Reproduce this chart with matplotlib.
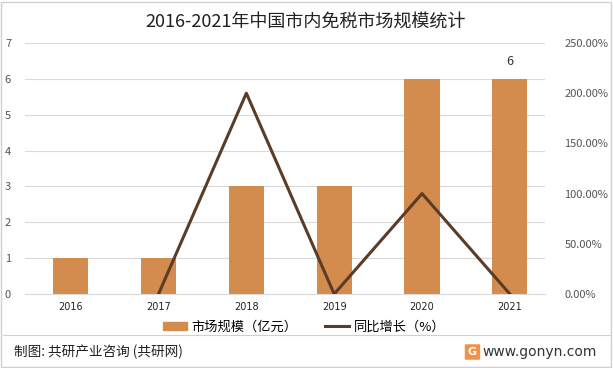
import matplotlib
matplotlib.use("Agg")
import matplotlib.pyplot as plt
from matplotlib.patches import Rectangle, FancyBboxPatch
from matplotlib.lines import Line2D

plt.rcParams['font.family'] = ['Noto Sans CJK SC', 'DejaVu Sans']

years = ['2016', '2017', '2018', '2019', '2020', '2021']
market_size = [1, 1, 3, 3, 6, 6]
growth_years = ['2017', '2018', '2019', '2020', '2021']
growth_rate = [0, 200, 0, 100, 0]
left_ticks = [0, 1, 2, 3, 4, 5, 6, 7]
right_ticks = [0, 50, 100, 150, 200, 250]

bar_color = '#D48C4E'
line_color = '#5B3C26'

W, H = 613, 368
fig = plt.figure(figsize=(W / 100, H / 100), dpi=100)
fig.patch.set_facecolor('white')

ax = fig.add_axes([25 / W, 1 - 294 / H, 520 / W, 251 / H])
ax2 = ax.twinx()

x = list(range(len(years)))
ax.bar(x, market_size, width=0.4, color=bar_color, zorder=2)
ax.set_ylim(0, 7)
ax.set_yticks(left_ticks)
ax.set_xlim(-0.52, 5.4)
ax.set_xticks(x)
ax.set_xticklabels(years, fontsize=7, color='#222222', fontfamily='DejaVu Sans')
ax.grid(axis='y', color='#D9D9D9', linewidth=0.8, zorder=0)
ax.set_axisbelow(True)
ax.tick_params(axis='both', length=0, pad=6)
ax.tick_params(axis='y', labelsize=8, labelcolor='#555555', pad=10)
for s in ax.spines.values():
    s.set_visible(False)
ax.spines['bottom'].set_visible(True)
ax.spines['bottom'].set_color('#D9D9D9')

# data label on last bar
ax.annotate(str(market_size[-1]), (x[-1], market_size[-1]), xytext=(0, 8),
            textcoords='offset points', ha='center', va='bottom',
            fontsize=9, color='#333333')

gx = [years.index(y) for y in growth_years]
ax2.plot(gx, growth_rate, color=line_color, linewidth=2.2, zorder=3)
ax2.set_ylim(0, 250)
ax2.set_yticks(right_ticks)
ax2.set_yticklabels([f'{v:.2f}%' for v in right_ticks], fontsize=8, color='#555555')
ax2.tick_params(axis='y', length=0, pad=14)
for s in ax2.spines.values():
    s.set_visible(False)

fig.text(306 / W, 1 - 22 / H, '2016-2021年中国市内免税市场规模统计', ha='center', va='center',
         fontsize=13, color='#222222')

# legend
handles = [Rectangle((0, 0), 1, 1, color=bar_color),
           Line2D([0], [0], color=line_color, linewidth=2.2)]
fig.legend(handles, ['市场规模（亿元）', '同比增长（%）'], loc='center',
           bbox_to_anchor=(304 / W, 1 - 327 / H), ncol=2, frameon=False,
           fontsize=9.5, handlelength=1.85, handleheight=0.55, columnspacing=2.1,
           handletextpad=0.3)

# footer
fig.add_artist(Line2D([3 / W, 610 / W], [1 - 335 / H, 1 - 335 / H], color='#D0D0D0', linewidth=0.8))
fig.text(14 / W, 1 - 352 / H, '制图: 共研产业咨询 (共研网)', ha='left', va='center',
         fontsize=9.8, color='#222222', fontweight='medium')
fig.text(597 / W, 1 - 352 / H, 'www.gonyn.com', ha='right', va='center',
         fontsize=10, color='#333333', fontfamily='DejaVu Sans')
fig.add_artist(FancyBboxPatch((466 / W, 1 - 359 / H), 13 / W, 14 / H,
                              boxstyle='round,pad=0.002', facecolor='#F2914A',
                              edgecolor='none', transform=fig.transFigure))
fig.text(472.5 / W, 1 - 352 / H, 'G', ha='center', va='center', fontsize=8,
         color='white', fontweight='bold', fontfamily='DejaVu Sans')

# outer border
fig.add_artist(Rectangle((1 / W, 1 / H), (W - 3) / W, (H - 3) / H, fill=False,
                         edgecolor='#D0D0D0', linewidth=1, transform=fig.transFigure))

fig.savefig('out.png', dpi=100)
